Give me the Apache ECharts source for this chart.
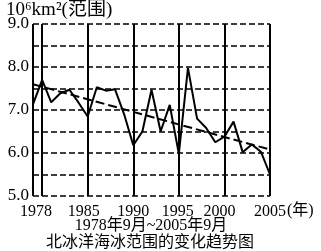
<!DOCTYPE html>
<html>
<head>
<meta charset="utf-8">
<script src="https://cdn.jsdelivr.net/npm/echarts@6/dist/echarts.min.js"></script>
<style>
html,body{margin:0;padding:0;background:#fff;}
#chart{width:321px;height:251px;}
</style>
</head>
<body>
<div id="chart"></div>
<script>
// Point positions (one per year, as drawn)
const years = [1979,1980,1981,1982,1983,1984,1985,1986,1987,1988,1989,1990,1991,1992,1993,1994,1995,1996,1997,1998,1999,2000,2001,2002,2003,2004,2005];
// Sea-ice extent (10^6 km^2)
const extent = [7.13,7.70,7.18,7.39,7.47,7.17,6.85,7.53,7.45,7.48,6.90,6.18,6.50,7.47,6.50,7.12,5.98,7.98,6.80,6.58,6.25,6.38,6.73,6.02,6.20,6.03,5.50];
// Linear trend, start and end values
const trendStart = 7.60;
const trendEnd = 6.08;
// Vertical reference lines (year positions) and the labels printed under them
const tickYears = [1980,1985,1990,1995,2000,2005];
const tickLabels = ['1978','1985','1990','1995','2000','2005'];
const yTicks = [5.0,6.0,7.0,8.0,9.0];

const FONT = '"Liberation Serif","Noto Sans CJK SC",serif';
const cats = years.map(String);
const lineYears = [years[0]].concat(tickYears);
const trendData = years.map((y, i) => i === 0 ? trendStart : (i === years.length - 1 ? trendEnd : null));
// label nudges (px, shift left) to match the printed placement
const labelShift = [12, 8, 0, 2, 10, 0];

const rich = {};
labelShift.forEach((s, k) => { rich['l' + k] = {padding: [0, s, 0, 0], color: '#000', fontFamily: FONT, fontSize: 16}; });

const chart = echarts.init(document.getElementById('chart'), null, {renderer: 'canvas'});
chart.setOption({
  animation: false,
  backgroundColor: '#fff',
  grid: {left: 33, right: 51, top: 24, bottom: 55},
  xAxis: {
    type: 'category',
    data: cats,
    boundaryGap: false,
    axisLine: {show: false},
    axisTick: {show: false},
    axisLabel: {
      interval: (i, v) => tickYears.indexOf(+v) >= 0,
      formatter: (v) => { const k = tickYears.indexOf(+v); return k >= 0 ? '{l' + k + '|' + tickLabels[k] + '}' : ''; },
      rich: rich,
      color: '#000', fontFamily: FONT, fontSize: 16, margin: 8
    },
    splitLine: {
      show: true,
      interval: (i, v) => lineYears.indexOf(+v) >= 0,
      lineStyle: {color: '#000', width: 2, type: 'solid'}
    }
  },
  yAxis: {
    type: 'value', min: 5, max: 9, interval: 0.5,
    axisLine: {show: false},
    axisTick: {show: false},
    axisLabel: {
      formatter: (v) => yTicks.some(t => Math.abs(t - v) < 1e-6) ? v.toFixed(1) : '',
      color: '#000', fontFamily: FONT, fontSize: 17, margin: 4
    },
    splitLine: {show: true, lineStyle: {color: '#000', width: 1.5, type: [6, 3]}}
  },
  series: [
    {
      type: 'line', data: extent, symbol: 'none',
      lineStyle: {color: '#000', width: 2}, z: 5
    },
    {
      type: 'line', data: trendData, connectNulls: true, symbol: 'none',
      lineStyle: {color: '#000', width: 2, type: [9, 4]}, z: 4
    }
  ],
  graphic: [
    {type: 'text', left: 6, top: 1, style: {text: '10⁶km²(范围)', font: '19px ' + FONT, fill: '#000'}},
    {type: 'text', left: 287, top: 203, style: {text: '(年)', font: '16px ' + FONT, fill: '#000'}},
    {type: 'text', x: 151, y: 226, style: {text: '1978年9月~2005年9月', font: '16px ' + FONT, fill: '#000', align: 'center', verticalAlign: 'middle'}},
    {type: 'text', x: 150, y: 243, style: {text: '北冰洋海冰范围的变化趋势图', font: '16px ' + FONT, fill: '#000', align: 'center', verticalAlign: 'middle'}}
  ]
});
</script>
</body>
</html>
